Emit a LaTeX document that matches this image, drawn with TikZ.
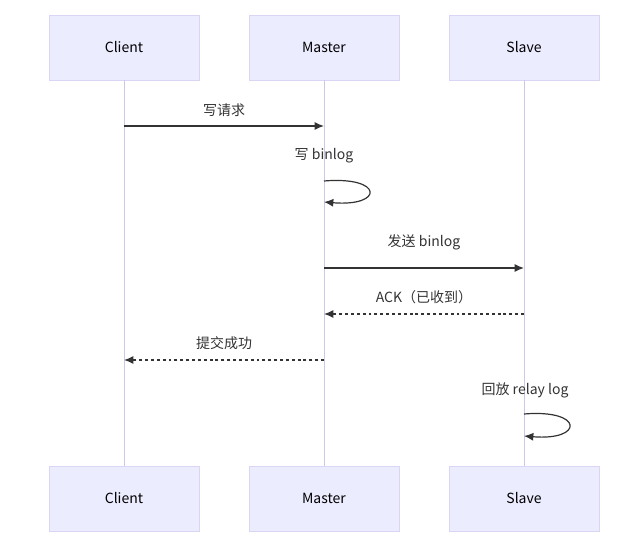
\documentclass[tikz,border=0pt]{standalone}
\usepackage{fontspec}
\setmainfont{Noto Sans CJK SC}
\usetikzlibrary{arrows.meta}
\definecolor{actorfill}{RGB}{236,236,255}
\definecolor{actorline}{RGB}{218,212,245}
\definecolor{lifeline}{RGB}{205,200,235}
\definecolor{msg}{RGB}{51,51,51}
\tikzset{
  actor/.style={draw=actorline, fill=actorfill, minimum width=112.5pt, minimum height=48.75pt, inner sep=0pt, font=\fontsize{10.5}{12}\selectfont, text=black},
  life/.style={draw=lifeline, line width=0.75pt},
  call/.style={draw=msg, line width=0.9pt, -{Latex[length=7pt,width=6pt]}},
  reply/.style={call, dash pattern=on 2.2pt off 2.2pt},
  lbl/.style={font=\fontsize{10.5}{12}\selectfont, text=msg, inner sep=0pt}
}
\begin{document}
\begin{tikzpicture}[x=0.75pt,y=0.75pt,yscale=-1,xscale=1]
\useasboundingbox (0,0) rectangle (641,555);
% participants
\node[actor] (clientT) at (124,47.5) {Client};
\node[actor] (masterT) at (324,47.5) {Master};
\node[actor] (slaveT) at (524,47.5) {Slave};
\node[actor] (clientB) at (124,498.5) {Client};
\node[actor] (masterB) at (324,498.5) {Master};
\node[actor] (slaveB) at (524,498.5) {Slave};
% lifelines
\draw[life] (clientT) -- (clientB);
\draw[life] (masterT) -- (masterB);
\draw[life] (slaveT) -- (slaveB);
% message points
\coordinate (c1) at (124,126); \coordinate (m1) at (324,126);
\coordinate (m2a) at (324,181); \coordinate (m2b) at (324,202);
\coordinate (m3) at (324,268); \coordinate (s3) at (524,268);
\coordinate (s4) at (524,314); \coordinate (m4) at (324,314);
\coordinate (m5) at (324,360); \coordinate (c5) at (124,360);
\coordinate (s6a) at (524,414); \coordinate (s6b) at (524,436);
% messages
\draw[call] (c1) -- (m1);
\node[lbl] (t1) at (224,110) {写请求};
\draw[call] (m2a) .. controls (384,176) and (384,207) .. (m2b);
\node[lbl] (t2) at (324,156) {写 binlog};
\draw[call] (m3) -- (s3);
\node[lbl] (t3) at (424,242) {发送 binlog};
\draw[reply] (s4) -- (m4);
\node[lbl] (t4) at (424,297) {ACK（已收到）};
\draw[reply] (m5) -- (c5);
\node[lbl] (t5) at (224,343) {提交成功};
\draw[call] (s6a) .. controls (584,409) and (584,441) .. (s6b);
\node[lbl] (t6) at (525,390) {回放 relay log};
\end{tikzpicture}
\end{document}
